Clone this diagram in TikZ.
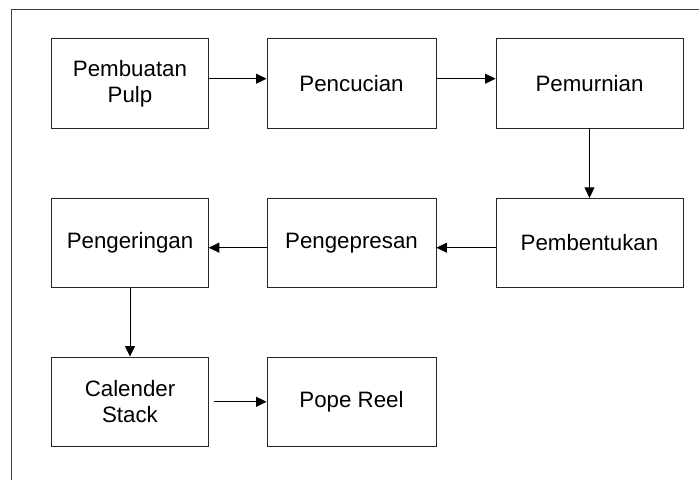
\documentclass[tikz,border=0pt]{standalone}
\usepackage{fontspec}
\setmainfont{Liberation Sans}
\usetikzlibrary{arrows.meta}
\begin{document}
\begin{tikzpicture}[x=1pt,y=-1pt,
  stage/.style={draw=black!85, line width=0.9pt, align=center, inner sep=0pt,
    font=\fontsize{22.3}{26}\selectfont, text=black},
  colA/.style={minimum width=156.6pt},
  colB/.style={minimum width=169pt},
  colC/.style={minimum width=187pt},
  flow/.style={draw=black, line width=0.8pt, -{Triangle[length=10.5pt,width=10pt]}},
  frame/.style={draw=black!75, line width=1pt}]
\useasboundingbox (0,0) rectangle (699,480);

% open frame: top and left edges only
\coordinate (frameTR) at (699,9.3);
\coordinate (frameTL) at (11,9.3);
\coordinate (frameBL) at (11,480);
\draw[frame] (frameTR) -- (frameTL) -- (frameBL);

% process stages
\node[stage, colA, minimum height=89.3pt] (pulp)   at (130,83.3)   {Pembuatan\\Pulp};
\node[stage, colB, minimum height=89.3pt] (wash)   at (351.5,83.3) {Pencucian};
\node[stage, colC, minimum height=89.3pt] (refine) at (589.5,83.3) {Pemurnian};

\node[stage, colA, minimum height=88.7pt] (dry)    at (130,242.7)   {Pengeringan};
\node[stage, colB, minimum height=88.7pt] (press)  at (351.5,242.7) {Pengepresan};
\node[stage, colC, minimum height=88.7pt] (form)   at (589.5,242.7) {Pembentukan};

\node[stage, colA, minimum height=89.7pt] (cal)    at (130,401.8)   {Calender\\Stack};
\node[stage, colB, minimum height=89.7pt] (reel)   at (351.5,401.8) {Pope Reel};

% flow between stages
\draw[flow] ([yshift=4.6pt]pulp.east) -- ([yshift=4.6pt]wash.west);
\draw[flow] ([yshift=4.6pt]wash.east) -- ([yshift=4.6pt]refine.west);
\draw[flow] (refine.south) -- (form.north);
\draw[flow] ([yshift=-5pt]form.west) -- ([yshift=-5pt]press.east);
\draw[flow] ([yshift=-5pt]press.west) -- ([yshift=-5pt]dry.east);
\draw[flow] (dry.south) -- (cal.north);
\draw[flow, shorten <=5pt] (cal.east) -- (reel.west);
\end{tikzpicture}
\end{document}
